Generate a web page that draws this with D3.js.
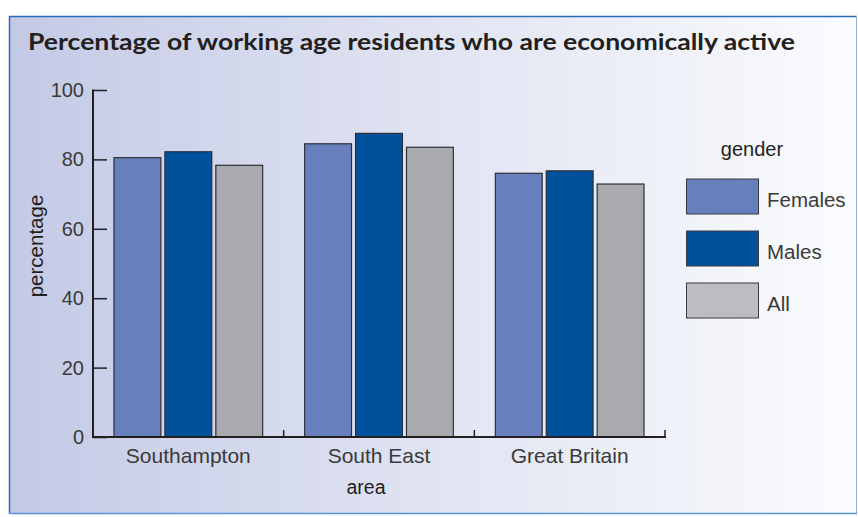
<!DOCTYPE html>
<html>
<head>
<meta charset="utf-8">
<script src="https://cdn.jsdelivr.net/npm/d3@7"></script>
<style>
  html, body { margin: 0; padding: 0; background: #ffffff; }
  svg { display: block; }
  text { font-family: "Liberation Sans", Arial, sans-serif; }
</style>
</head>
<body>
<svg id="chart" width="858" height="517"></svg>
<script>
// Economic activity rates of working age residents, by area and gender
const areas = ["Southampton", "South East", "Great Britain"];
const genders = ["Females", "Males", "All"];
const females = [80.5, 84.5, 76.0];
const males = [82.2, 87.5, 76.7];
const all = [78.3, 83.5, 72.9];
const yTicks = [0, 20, 40, 60, 80, 100];

const series = { Females: females, Males: males, All: all };
const colors = { Females: "#6780bd", Males: "#00519c", All: "#a9aaad" };
const legendColors = { Females: "#6780bd", Males: "#00519c", All: "#bcbdc0" };

const svg = d3.select("#chart");

// Panel background with a left-to-right fade
const defs = svg.append("defs");
const grad = defs.append("linearGradient").attr("id", "bg").attr("x1", "0%").attr("x2", "100%");
grad.append("stop").attr("offset", "0%").attr("stop-color", "#c4cae6");
grad.append("stop").attr("offset", "55%").attr("stop-color", "#e3e6f3");
grad.append("stop").attr("offset", "100%").attr("stop-color", "#fbfcfe");

svg.append("rect").attr("x", 10).attr("y", 17).attr("width", 846).attr("height", 496)
  .attr("fill", "url(#bg)");
// Frame
svg.append("line").attr("x1", 9).attr("x2", 857).attr("y1", 16.5).attr("y2", 16.5)
  .attr("stroke", "#2b6cb8").attr("stroke-width", 1.5);
svg.append("line").attr("x1", 9.5).attr("x2", 9.5).attr("y1", 16).attr("y2", 514)
  .attr("stroke", "#2b6cb8").attr("stroke-width", 1.5);
svg.append("line").attr("x1", 856.5).attr("x2", 856.5).attr("y1", 16).attr("y2", 514)
  .attr("stroke", "#8fb2dc").attr("stroke-width", 1);
svg.append("line").attr("x1", 9).attr("x2", 857).attr("y1", 513.5).attr("y2", 513.5)
  .attr("stroke", "#5b93d4").attr("stroke-width", 1.5);

// Title
svg.append("text").attr("x", 28).attr("y", 50)
  .style("font-family", "Lato, 'Open Sans', sans-serif")
  .style("font-weight", "bold").style("font-size", "23.5px").attr("fill", "#231f20")
  .attr("textLength", 767).attr("lengthAdjust", "spacingAndGlyphs")
  .text("Percentage of working age residents who are economically active");

// Scales
const x0 = d3.scaleBand().domain(areas).range([93, 665]).paddingInner(0).paddingOuter(0);
const x1 = d3.scaleBand().domain(genders).range([21, x0.bandwidth() - 21]).paddingInner(0.08);
const y = d3.scaleLinear().domain([0, 100]).range([437, 90]);

// Bars
const g = svg.append("g");
areas.forEach((a, i) => {
  genders.forEach(k => {
    const v = series[k][i];
    g.append("rect")
      .attr("x", x0(a) + x1(k))
      .attr("y", y(v))
      .attr("width", x1.bandwidth())
      .attr("height", y(0) - y(v))
      .attr("fill", colors[k])
      .attr("stroke", "#2e2e36").attr("stroke-width", 1.2);
  });
});

// Y axis with ticks pointing inward
const yAxis = d3.axisRight(y).tickValues(yTicks).tickSize(14).tickPadding(0).tickFormat("");
const ya = svg.append("g").attr("transform", "translate(93,0)").call(yAxis);
ya.select(".domain").remove();
ya.selectAll(".tick line").attr("stroke", "#231f20").attr("stroke-width", 1.5);
svg.append("line").attr("x1", 93).attr("x2", 93).attr("y1", 89.5).attr("y2", 437.5)
  .attr("stroke", "#231f20").attr("stroke-width", 2);
yTicks.forEach(t => {
  svg.append("text").attr("x", 84).attr("y", y(t) + 7).attr("text-anchor", "end")
    .style("font-size", "20px").attr("fill", "#3a3a3a").text(t);
});

// X axis: baseline with upward ticks at band edges
const edges = d3.range(areas.length + 1).map(i => 93 + i * x0.bandwidth());
svg.append("line").attr("x1", 92).attr("x2", 666).attr("y1", y(0)).attr("y2", y(0))
  .attr("stroke", "#231f20").attr("stroke-width", 2);
svg.selectAll(".xt").data(edges.slice(1)).enter().append("line")
  .attr("x1", d => d).attr("x2", d => d).attr("y1", y(0)).attr("y2", y(0) - 7)
  .attr("stroke", "#231f20").attr("stroke-width", 1.5);
areas.forEach(a => {
  svg.append("text").attr("x", x0(a) + x0.bandwidth() / 2).attr("y", 463)
    .attr("text-anchor", "middle").style("font-size", "21px").attr("fill", "#3a3a3a").text(a);
});

// Axis titles
svg.append("text").attr("x", 366).attr("y", 494).attr("text-anchor", "middle")
  .style("font-size", "19.5px").attr("fill", "#231f20").text("area");
svg.append("text").attr("transform", "translate(43,246) rotate(-90)").attr("text-anchor", "middle")
  .style("font-size", "20.5px").attr("fill", "#231f20").text("percentage");

// Legend
svg.append("text").attr("x", 752).attr("y", 156).attr("text-anchor", "middle")
  .style("font-size", "20px").attr("fill", "#231f20").text("gender");
genders.forEach((k, i) => {
  const ly = 179 + i * 52;
  svg.append("rect").attr("x", 686.5).attr("y", ly).attr("width", 72).attr("height", 35)
    .attr("fill", legendColors[k]).attr("stroke", "#3a3a40").attr("stroke-width", 1);
  svg.append("text").attr("x", 767).attr("y", ly + 28)
    .style("font-size", "20.5px").attr("fill", "#3a3a3a").text(k);
});
</script>
</body>
</html>
